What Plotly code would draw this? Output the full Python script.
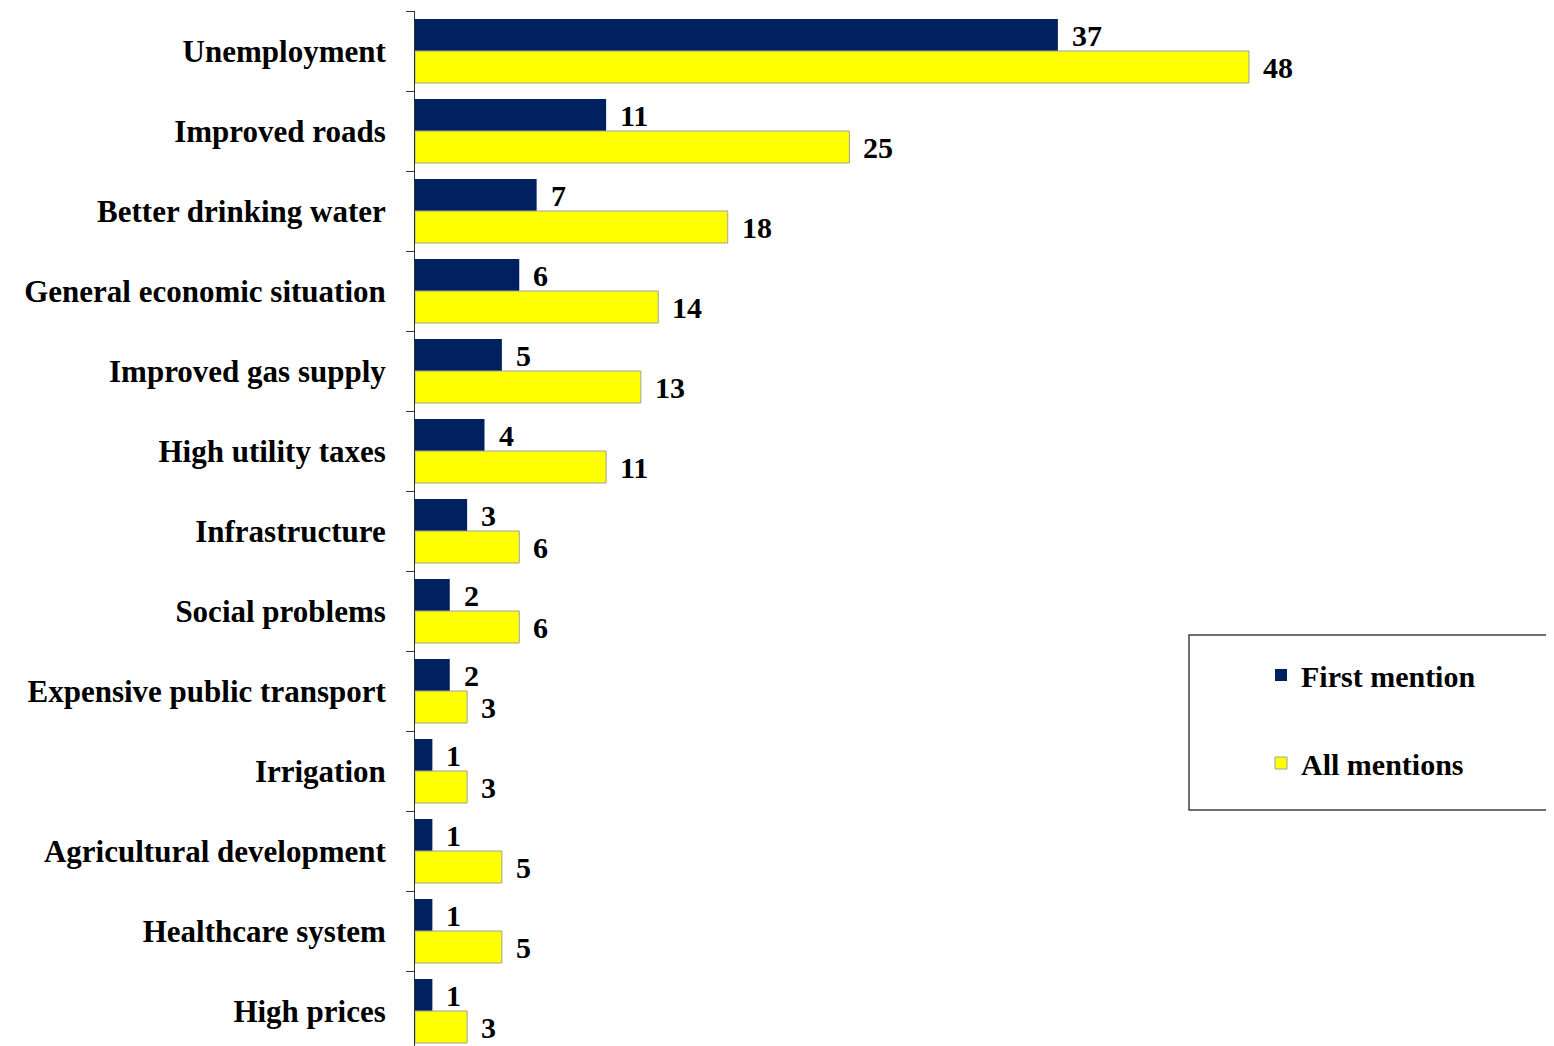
import plotly.graph_objects as go

categories = ["Unemployment", "Improved roads", "Better drinking water",
              "General economic situation", "Improved gas supply", "High utility taxes",
              "Infrastructure", "Social problems", "Expensive public transport",
              "Irrigation", "Agricultural development", "Healthcare system", "High prices"]
first_mention = [37, 11, 7, 6, 5, 4, 3, 2, 2, 1, 1, 1, 1]
all_mentions = [48, 25, 18, 14, 13, 11, 6, 6, 3, 3, 5, 5, 3]
series_names = ["First mention", "All mentions"]

FONT = "Liberation Serif, Times New Roman, serif"
FS = 31
OFF = 8  # page body margin
W, H = 1554 - OFF, 1046 - OFF
ML, MT = 415 - OFF, 11 - OFF
PX_PER_UNIT = 17.375
plot_w = W - ML
plot_h = H - MT

def px_y(py):
    # page pixel y -> paper coordinate
    return (1046 - py) / plot_h

def px_x(px):
    return (px - 415) / plot_w

fig = go.Figure()
fig.add_trace(go.Bar(y=categories, x=first_mention, orientation="h", name=series_names[0],
                     marker=dict(color="#002060", line=dict(width=0)),
                     legendgroup="a"))
fig.add_trace(go.Bar(y=categories, x=all_mentions, orientation="h", name=series_names[1],
                     marker=dict(color="#FFFF00", line=dict(color="#A0A0A0", width=1)),
                     legendgroup="b"))

annotations = []
for c, v in zip(categories, first_mention):
    annotations.append(dict(x=v, y=c, text=str(v), xanchor="left", yanchor="middle",
                            xshift=12, yshift=16, showarrow=False,
                            font=dict(family=FONT, size=30, color="black", weight="bold")))
for c, v in zip(categories, all_mentions):
    annotations.append(dict(x=v, y=c, text=str(v), xanchor="left", yanchor="middle",
                            xshift=12, yshift=-16, showarrow=False,
                            font=dict(family=FONT, size=30, color="black", weight="bold")))

fig.update_layout(
    width=W, height=H,
    margin=dict(l=ML, r=0, t=MT, b=0),
    paper_bgcolor="white", plot_bgcolor="white",
    barmode="group", bargap=0.2, bargroupgap=0,
    font=dict(family=FONT, size=FS, color="black", weight="bold"),
    xaxis=dict(range=[0, plot_w / PX_PER_UNIT], visible=False),
    yaxis=dict(categoryorder="array", categoryarray=categories,
               range=[-0.5 + plot_h / 80.0, -0.5],
               showline=True, linecolor="#303030", linewidth=1,
               ticks="outside", tickson="boundaries", ticklen=8, tickcolor="#303030",
               tickfont=dict(family=FONT, size=FS, color="black", weight="bold"),
               ticklabelstandoff=22, showgrid=False, zeroline=False),
    legend=dict(x=px_x(1261), y=px_y(649), xanchor="left", yanchor="top",
                traceorder="grouped", tracegroupgap=46,
                bgcolor="rgba(0,0,0,0)", borderwidth=0,
                font=dict(family=FONT, size=30, color="black", weight="bold"),
                itemwidth=30),
    annotations=annotations,
    shapes=[dict(type="rect", xref="paper", yref="paper",
                 x0=px_x(1189), x1=1.2,
                 y0=px_y(810), y1=px_y(635),
                 line=dict(color="#404040", width=1.5), fillcolor="rgba(0,0,0,0)")],
)

fig.write_html("out.html")
